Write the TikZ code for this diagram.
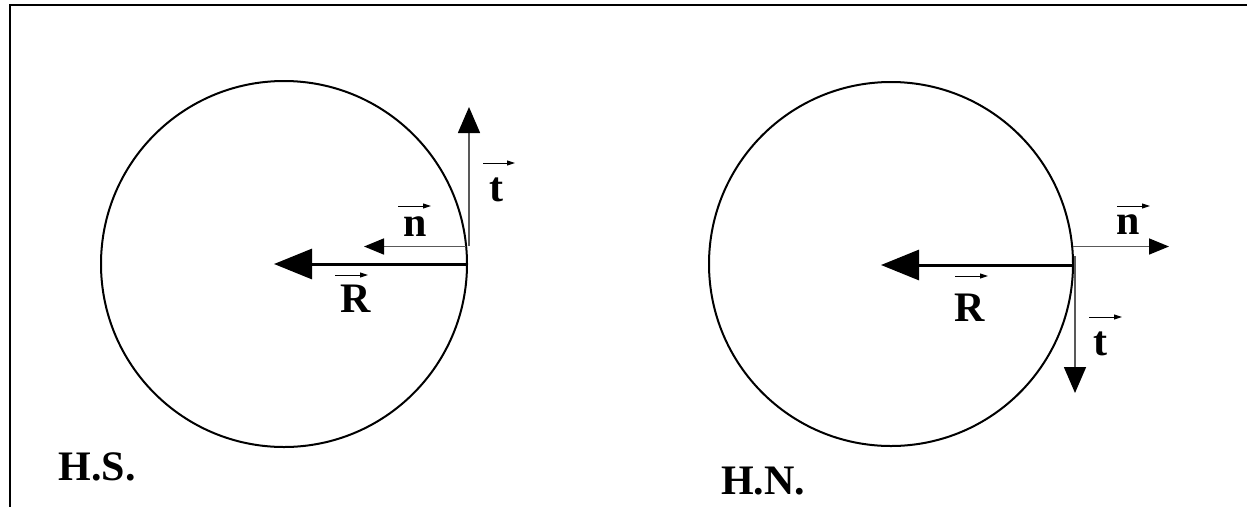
\documentclass[tikz,border=0pt]{standalone}
\usepackage{fontspec}
\setmainfont{Liberation Serif}
\usetikzlibrary{arrows.meta}
\begin{document}
\begin{tikzpicture}[x=1pt,y=-1pt,
  lbl/.style={inner sep=0pt,font=\fontsize{42}{42}\selectfont\bfseries},
  ring/.style={draw=black,line width=2pt},
  bigvec/.style={line width=3pt,-{Triangle[length=38pt,width=30pt]}},
  nvec/.style={draw=black!65,line width=1.6pt,-{Triangle[length=20pt,width=16pt,fill=black,color=black]}},
  tvec/.style={draw=black!65,line width=1.6pt,-{Triangle[length=26pt,width=22pt,fill=black,color=black]}},
  over/.style={line width=1pt,-{Triangle[length=8pt,width=5pt]}}]
\useasboundingbox (0,0) rectangle (1247,507);
% frame (top and left edges)
\draw[line width=2.5pt] (1247,5) -- (10,5) -- (10,507);
% ---- left (H.S.)
\node[ring,circle,minimum size=366pt,inner sep=0pt] (c1) at (284,264) {};
\coordinate (p1) at (467,264);
\coordinate (r1) at (274,264);
\coordinate (pn1) at (466,246.5);
\coordinate (n1tip) at (364,246.5);
\coordinate (pt1) at (469,246);
\coordinate (t1tip) at (469,107);
\draw[bigvec] (p1) -- (r1);
\draw[nvec] (pn1) -- (n1tip);
\draw[tvec] (pt1) -- (t1tip);
\node[lbl] (tl1) at (496,190) {t};
\node[lbl] (nl1) at (415,227) {n};
\node[lbl] (rl1) at (356,299) {R};
\draw[over] ([shift={(-13,-27)}]tl1.center) -- ++(32,0);
\draw[over] ([shift={(-17,-21)}]nl1.center) -- ++(33,0);
\draw[over] ([shift={(-21,-24)}]rl1.center) -- ++(33,0);
\node[lbl] (hs) at (97,467) {H.S.};
% ---- right (H.N.)
\node[ring,circle,minimum size=364pt,inner sep=0pt] (c2) at (891,264) {};
\coordinate (p2) at (1073,265);
\coordinate (r2) at (881,265);
\coordinate (pn2) at (1073,246.5);
\coordinate (n2tip) at (1169,246.5);
\coordinate (pt2) at (1075,256);
\coordinate (t2tip) at (1075,393);
\draw[bigvec] (p2) -- (r2);
\draw[nvec] (pn2) -- (n2tip);
\draw[tvec] (pt2) -- (t2tip);
\node[lbl] (nl2) at (1128,225) {n};
\node[lbl] (rl2) at (970,308) {R};
\node[lbl] (tl2) at (1100,344) {t};
\draw[over] ([shift={(-11,-19)}]nl2.center) -- ++(33,0);
\draw[over] ([shift={(-15,-32)}]rl2.center) -- ++(33,0);
\draw[over] ([shift={(-11,-27)}]tl2.center) -- ++(33,0);
\node[lbl] (hn) at (763,481) {H.N.};
\end{tikzpicture}
\end{document}
